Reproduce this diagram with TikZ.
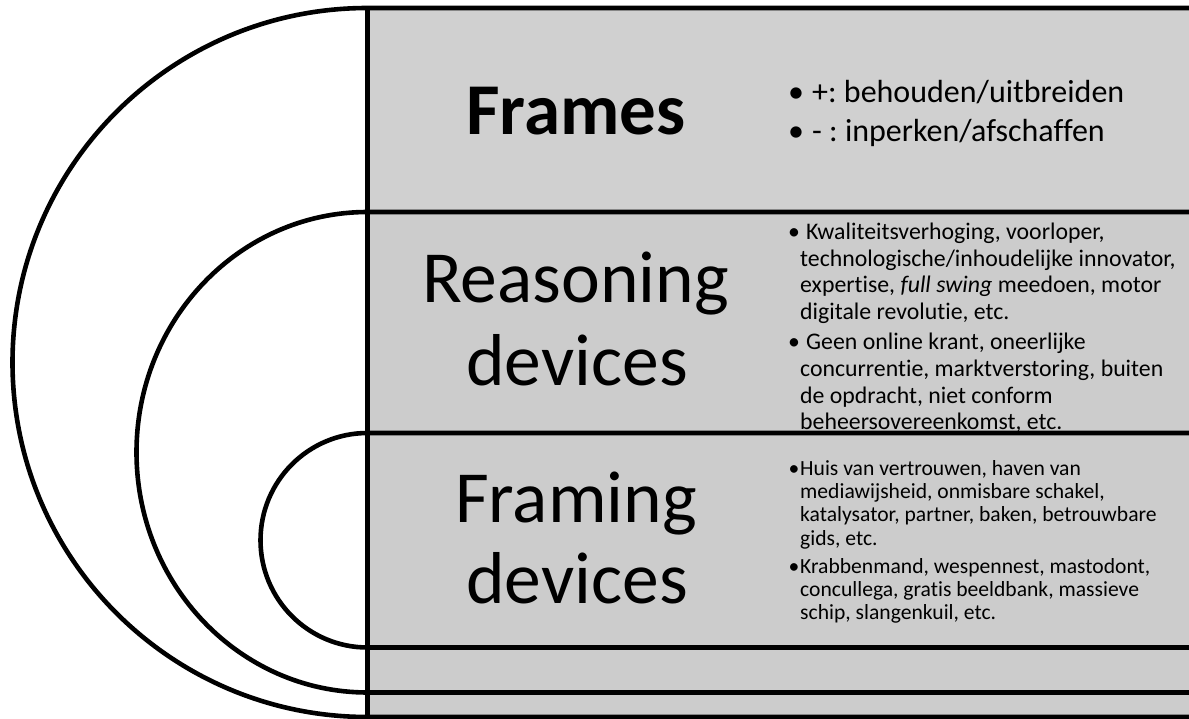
\documentclass[tikz,border=0pt]{standalone}
\usepackage{fontspec}
\setmainfont[Ligatures=NoCommon]{Carlito}
\definecolor{topgray}{RGB}{208,208,208}
\definecolor{bandgray}{RGB}{204,204,204}
\frenchspacing
\begin{document}
\begin{tikzpicture}[x=1pt,y=-1pt,
  rule/.style={line width=4.6pt, black},
  bigtxt/.style={anchor=base, inner sep=0pt, font=\fontsize{73.5}{80}\selectfont},
  bul/.style={anchor=base, inner sep=0pt},
  ftxt/.style={anchor=base west, inner sep=0pt, font=\fontsize{32}{38}\selectfont},
  rtxt/.style={anchor=base west, inner sep=0pt, font=\fontsize{23.8}{27}\selectfont},
  gtxt/.style={anchor=base west, inner sep=0pt, font=\fontsize{21.6}{23}\selectfont}]
\useasboundingbox (0,0) rectangle (1189,719);
% bands
\fill[topgray] (367.5,8) rectangle (1189,212);
\fill[bandgray] (367.5,212) rectangle (1189,719);
% arcs joined with band borders
\draw[rule] (1189,8) -- (367.5,8) arc[start angle=270, end angle=90, x radius=355, y radius=354.5] -- (1189,717);
\draw[rule] (1189,212) -- (367.5,212) arc[start angle=270, end angle=90, x radius=231, y radius=240.25] -- (1189,692.5);
\draw[rule] (1189,433) -- (367.5,433) arc[start angle=270, end angle=90, x radius=107, y radius=107.25] -- (1189,647.5);
\draw[rule] (367.5,8) -- (367.5,719);
% titles
\node[bigtxt, font=\fontsize{73}{80}\selectfont\bfseries] (frames) at (576,135) {Frames};
\node[bigtxt] (reas) at (575.5,303) {Reasoning};
\node[bigtxt] (reasdev) at (577,385) {devices};
\node[bigtxt] (fram) at (576,522) {Framing};
\node[bigtxt] (framdev) at (577,603) {devices};
% frames bullets
\node[bul, font=\fontsize{32}{38}\selectfont] (fb1) at (796,103) {•};
\node[ftxt] (ft1) at (812,103) {+: behouden/uitbreiden};
\node[bul, font=\fontsize{32}{38}\selectfont] (fb2) at (796,142) {•};
\node[ftxt] (ft2) at (812,142) {- : inperken/afschaffen};
% reasoning bullets
\node[bul, font=\fontsize{23.8}{27}\selectfont] (rb1) at (794,240) {•};
\node[rtxt] (r1) at (806,240) {Kwaliteitsverhoging, voorloper,};
\node[rtxt] (r2) at (800,266.5) {technologische/inhoudelijke innovator,};
\node[rtxt] (r3) at (800,293) {expertise, \textit{full swing} meedoen, motor};
\node[rtxt] (r4) at (800,319.5) {digitale revolutie, etc.};
\node[bul, font=\fontsize{23.8}{27}\selectfont] (rb2) at (794,350) {•};
\node[rtxt] (r5) at (806,350) {Geen online krant, oneerlijke};
\node[rtxt] (r6) at (800,376.5) {concurrentie, marktverstoring, buiten};
\node[rtxt] (r7) at (800,403) {de opdracht, niet conform};
\node[rtxt] (r8) at (800,429.5) {beheersovereenkomst, etc.};
% framing bullets
\node[bul, font=\fontsize{21.6}{23}\selectfont] (gb1) at (794,475) {•};
\node[gtxt] (g1) at (800,475) {Huis van vertrouwen, haven van};
\node[gtxt] (g2) at (800,498.3) {mediawijsheid, onmisbare schakel,};
\node[gtxt] (g3) at (800,521.6) {katalysator, partner, baken, betrouwbare};
\node[gtxt] (g4) at (800,545) {gids, etc.};
\node[bul, font=\fontsize{21.6}{23}\selectfont] (gb2) at (794,573) {•};
\node[gtxt] (g5) at (800,573) {Krabbenmand, wespennest, mastodont,};
\node[gtxt] (g6) at (800,596.4) {concullega, gratis beeldbank, massieve};
\node[gtxt] (g7) at (800,619.8) {schip, slangenkuil, etc.};
\end{tikzpicture}
\end{document}
